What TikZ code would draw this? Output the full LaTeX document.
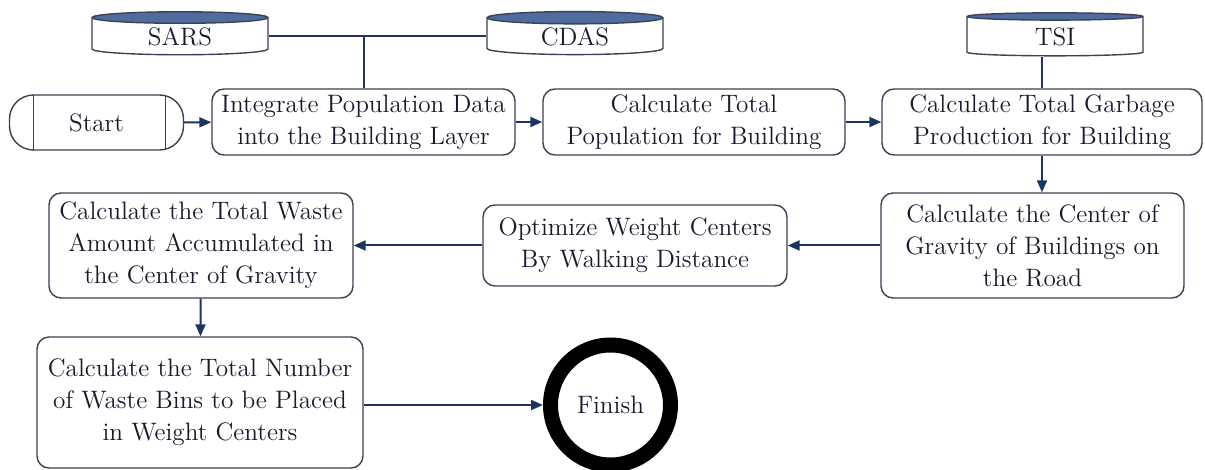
\documentclass[tikz,border=0pt]{standalone}
\usetikzlibrary{arrows.meta,shapes.geometric}

\definecolor{navy}{RGB}{28,52,98}
\definecolor{ink}{RGB}{22,26,44}
\definecolor{edge}{RGB}{58,66,84}
\definecolor{lid}{RGB}{78,108,158}

\tikzset{
    txt/.style={text=ink, font=\fontsize{12.6}{16}\selectfont, align=center, inner sep=0pt},
    proc/.style={txt, draw=edge, line width=0.7pt, rounded corners=6pt, fill=white, minimum width=#1},
    store/.style={txt, cylinder, shape border rotate=90, aspect=0.18, draw=edge, line width=0.7pt,
        cylinder uses custom fill, cylinder end fill=lid, cylinder body fill=white,
        minimum width=88pt, minimum height=21.5pt},
    term/.style={txt, draw=edge, line width=0.7pt, rounded corners=12pt, minimum width=87pt, minimum height=27.5pt,
        path picture={
            \draw[edge, line width=0.7pt] ([xshift=12pt]path picture bounding box.north west) -- ([xshift=12pt]path picture bounding box.south west);
            \draw[edge, line width=0.7pt] ([xshift=-9pt]path picture bounding box.north east) -- ([xshift=-9pt]path picture bounding box.south east);
        }},
    link/.style={navy, line width=1pt},
    arr/.style={link, -{Triangle[length=6pt,width=5pt]}},
}

\begin{document}
\begin{tikzpicture}[x=0.5pt, y=-0.5pt]
    \useasboundingbox (0,0) rectangle (1205,470);

    % data stores
    \node[store] (sars) at (180,36.5) {SARS};
    \node[store] (cdas) at (575,36.5) {CDAS};
    \node[store] (tsi) at (1055,36.5) {TSI};

    % first row
    \node[term] (start) at (96.5,122.5) {Start};
    \node[proc=151.5pt, minimum height=33pt] (integ) at (363.5,122) {Integrate Population Data\\into the Building Layer};
    \node[proc=151pt, minimum height=33pt] (popul) at (694,122) {Calculate Total\\Population for Building};
    \node[proc=160pt, minimum height=33pt] (garb) at (1042,122) {Calculate Total Garbage\\Production for Building};

    % second row
    \node[proc=151.5pt, minimum height=52.5pt] (grav) at (1032.5,245.5) {Calculate the Center of\\Gravity of Buildings on\\the Road};
    \node[proc=152pt, minimum height=40.5pt] (optim) at (635,245.5) {Optimize Weight Centers\\By Walking Distance};
    \node[proc=152pt, minimum height=52.5pt] (accum) at (201,245.5) {Calculate the Total Waste\\Amount Accumulated in\\the Center of Gravity};

    % third row
    \node[proc=163pt, minimum height=65.5pt] (bins) at (200,402.5) {Calculate the Total Number\\of Waste Bins to be Placed\\in Weight Centers};
    \node[txt, circle, draw=black, line width=7.5pt, minimum size=60pt] (finish) at (610.5,405) {Finish};

    % inputs
    \draw[link] (sars.east) -- (cdas.west);
    \draw[link] (integ.north) -- (integ.north |- sars.east);
    \draw[link] (tsi.south -| garb.north) -- (garb.north);

    % flow
    \draw[arr] (start) -- (integ);
    \draw[arr] (integ) -- (popul);
    \draw[arr] (popul) -- (garb);
    \draw[arr] (garb.south) -- (garb.south |- grav.north);
    \draw[arr] (grav) -- (optim);
    \draw[arr] (optim) -- (accum);
    \draw[arr] (accum) -- (bins);
    \draw[arr] (bins.east |- finish) -- (finish);
\end{tikzpicture}
\end{document}
